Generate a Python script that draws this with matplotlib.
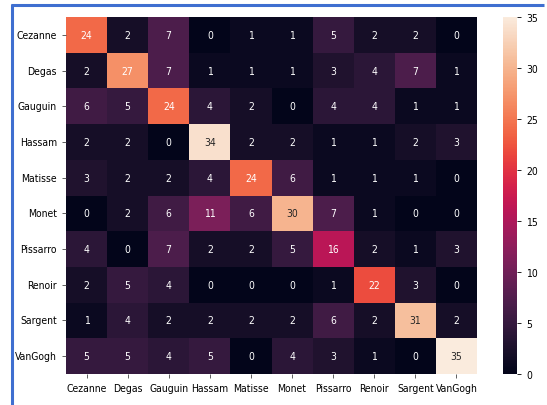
import numpy as np
import matplotlib
matplotlib.use("Agg")
import matplotlib.pyplot as plt
import seaborn as sns
from matplotlib.lines import Line2D

plt.rcParams["font.family"] = ["DejaVu Sans"]
plt.rcParams["font.stretch"] = "condensed"

painters = ["Cezanne", "Degas", "Gauguin", "Hassam", "Matisse",
            "Monet", "Pissarro", "Renoir", "Sargent", "VanGogh"]

# confusion matrix: rows = true painter, columns = predicted painter
cezanne = [24, 2, 7, 0, 1, 1, 5, 2, 2, 0]
degas = [2, 27, 7, 1, 1, 1, 3, 4, 7, 1]
gauguin = [6, 5, 24, 4, 2, 0, 4, 4, 1, 1]
hassam = [2, 2, 0, 34, 2, 2, 1, 1, 2, 3]
matisse = [3, 2, 2, 4, 24, 6, 1, 1, 1, 0]
monet = [0, 2, 6, 11, 6, 30, 7, 1, 0, 0]
pissarro = [4, 0, 7, 2, 2, 5, 16, 2, 1, 3]
renoir = [2, 5, 4, 0, 0, 0, 1, 22, 3, 0]
sargent = [1, 4, 2, 2, 2, 2, 6, 2, 31, 2]
vangogh = [5, 5, 4, 5, 0, 4, 3, 1, 0, 35]

cm = np.array([cezanne, degas, gauguin, hassam, matisse,
               monet, pissarro, renoir, sargent, vangogh])

W, H = 547, 406
fig = plt.figure(figsize=(W / 100, H / 100), dpi=100)
ax = fig.add_axes([66 / W, 1 - 375 / H, (477 - 66) / W, (375 - 18) / H])
cax = fig.add_axes([503 / W, 1 - 375 / H, 14 / W, (375 - 18) / H])

sns.heatmap(cm, annot=True, fmt="d", ax=ax, cbar_ax=cax,
            xticklabels=painters, yticklabels=painters,
            annot_kws={"fontsize": 7.5}, vmin=0, vmax=35)

ax.tick_params(axis="both", labelsize=7.5, length=3, width=0.6, color="#444444")
ax.set_yticklabels(painters, rotation=0)
ax.set_xticklabels(painters, rotation=0)
cax.tick_params(labelsize=7.5, length=3, width=0.6)
cax.set_yticks([0, 5, 10, 15, 20, 25, 30, 35])

# blue frame lines along the top and left edge
frame_kw = dict(transform=fig.transFigure, color="#3f6fd0", linewidth=2.2,
                solid_capstyle="butt")
fig.add_artist(Line2D([11 / W, 544 / W], [1 - 6 / H, 1 - 6 / H], **frame_kw))
fig.add_artist(Line2D([12 / W, 12 / W], [0, 1 - 5 / H], **frame_kw))

fig.savefig("out.png", dpi=100)
